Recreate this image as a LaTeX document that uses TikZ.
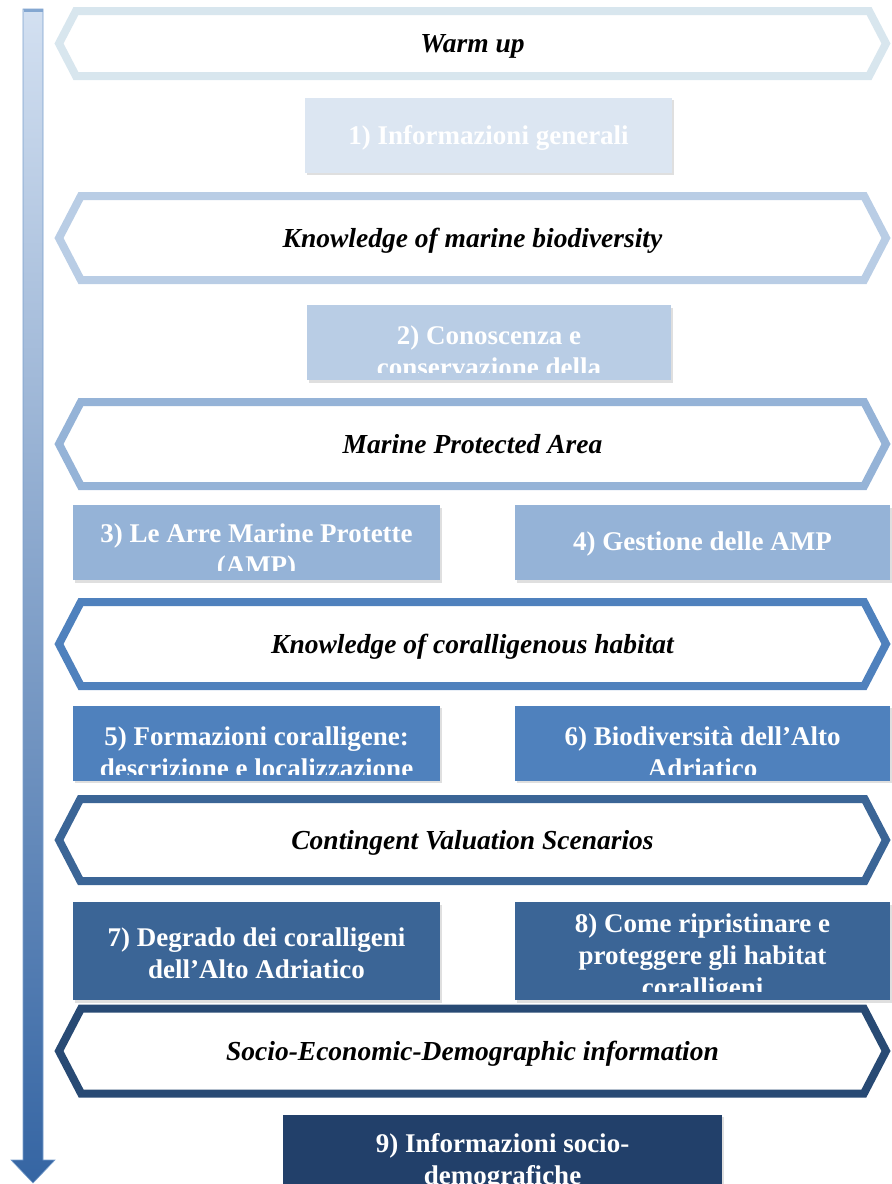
\documentclass[tikz,border=0pt]{standalone}
\usepackage{fontspec}
\setmainfont{Liberation Serif}
\usetikzlibrary{shapes.symbols, shadows}
\definecolor{toneA}{HTML}{DCE6F2}
\definecolor{rimA}{HTML}{D8E6EE}
\definecolor{toneB}{HTML}{B9CDE5}
\definecolor{toneC}{HTML}{95B3D7}
\definecolor{toneD}{HTML}{4F81BD}
\definecolor{toneE}{HTML}{3B6596}
\definecolor{toneF}{HTML}{22406A}
\definecolor{rimF}{HTML}{284A74}
\definecolor{axisTop}{HTML}{D3E0F1}
\definecolor{axisMid}{HTML}{4878B8}
\definecolor{axisBot}{HTML}{3565A3}
\tikzset{phase/.style={draw=#1, line width=8pt, fill=white, shape=signal, signal to=west and east, signal pointer angle=125, minimum width=827pt, minimum height=84pt, inner sep=0pt, text height=18pt, text depth=0pt, font=\bfseries\itshape\fontsize{27.5}{31}\selectfont},topic/.style={fill=#1, minimum width=367pt, minimum height=75pt, inner sep=0pt, drop shadow={opacity=0.25, shadow xshift=1.5pt, shadow yshift=-2.5pt}},topic_t/.style={text=white, align=center, inner sep=0pt, font=\bfseries\fontsize{27}{32}\selectfont}}

\begin{document}
\begin{tikzpicture}[x=1pt, y=-1pt,
   wide/.style={minimum width=375pt},
   cut/.style={anchor=base}]
  \useasboundingbox (0,0) rectangle (892,1184);

  % timeline arrow
  \shade[top color=axisTop, middle color=axisMid, bottom color=axisBot, draw=toneC!60!toneD, line width=0.6pt]
    (23,9) -- (43,9) -- (43,1160) -- (55,1160) -- (33,1183) -- (11,1160) -- (23,1160) -- cycle;
  \draw[toneD!70, line width=2.5pt] (23.5,10.5) -- (42.5,10.5);

  % Warm up
  \node[phase=rimA, minimum height=65pt] (warm) at (472.5,43.5) {Warm up};
  \node[topic=toneA] (b1) at (488.5,135) {};
  \node[topic_t, cut] (t1) at (488.5,144) {1) Informazioni generali};

  % Knowledge of marine biodiversity
  \node[phase=toneB] (know) at (472.5,238) {Knowledge of marine biodiversity};
  \node[topic=toneB, minimum width=364pt] (b2) at (489,342.5) {};
  \begin{scope}
    \clip ([yshift=8pt]b2.south west) rectangle (b2.north east);
    \node[topic_t, cut] (t2) at (489,376) {2) Conoscenza e\\ conservazione della};
  \end{scope}

  % Marine Protected Area
  \node[phase=toneC] (mpa) at (472.5,444) {Marine Protected Area};
  \node[topic=toneC] (b3) at (256.5,542.5) {};
  \begin{scope}
    \clip ([yshift=10pt]b3.south west) rectangle (b3.north east);
    \node[topic_t, cut] (t3) at (256.5,574) {3) Le Arre Marine Protette\\ (AMP)};
  \end{scope}
  \node[topic=toneC, wide] (b4) at (702.5,542.5) {};
  \node[topic_t, cut] (t4) at (702.5,550) {4) Gestione delle AMP};

  % Knowledge of coralligenous habitat
  \node[phase=toneD] (cor) at (472.5,644) {Knowledge of coralligenous habitat};
  \node[topic=toneD] (b5) at (256.5,743) {};
  \begin{scope}
    \clip ([yshift=6pt]b5.south west) rectangle (b5.north east);
    \node[topic_t, cut] (t5) at (256.5,777) {5) Formazioni coralligene:\\ descrizione e localizzazione};
  \end{scope}
  \node[topic=toneD, wide] (b6) at (702.5,743) {};
  \begin{scope}
    \clip ([yshift=6pt]b6.south west) rectangle (b6.north east);
    \node[topic_t, cut] (t6) at (702.5,777) {6) Biodiversità dell’Alto\\ Adriatico};
  \end{scope}

  % Contingent Valuation Scenarios
  \node[phase=toneE, minimum height=82pt] (cvs) at (472.5,840) {Contingent Valuation Scenarios};
  \node[topic=toneE, minimum height=98pt] (b7) at (256.5,951) {};
  \node[topic_t, cut] (t7) at (256.5,978) {7) Degrado dei coralligeni\\ dell’Alto Adriatico};
  \node[topic=toneE, wide, minimum height=98pt] (b8) at (702.5,951) {};
  \begin{scope}
    \clip ([yshift=9pt]b8.south west) rectangle (b8.north east);
    \node[topic_t, cut] (t8) at (702.5,996) {8) Come ripristinare e\\ proteggere gli habitat\\ coralligeni};
  \end{scope}

  % Socio-Economic-Demographic information
  \node[phase=rimF, minimum height=85pt] (sed) at (472.5,1051) {Socio-Economic-Demographic information};
  \node[topic=toneF, minimum width=439pt] (b9) at (502.5,1152) {};
  \node[topic_t, cut] (t9) at (502.5,1184) {9) Informazioni socio-\\ demografiche};
\end{tikzpicture}
\end{document}
